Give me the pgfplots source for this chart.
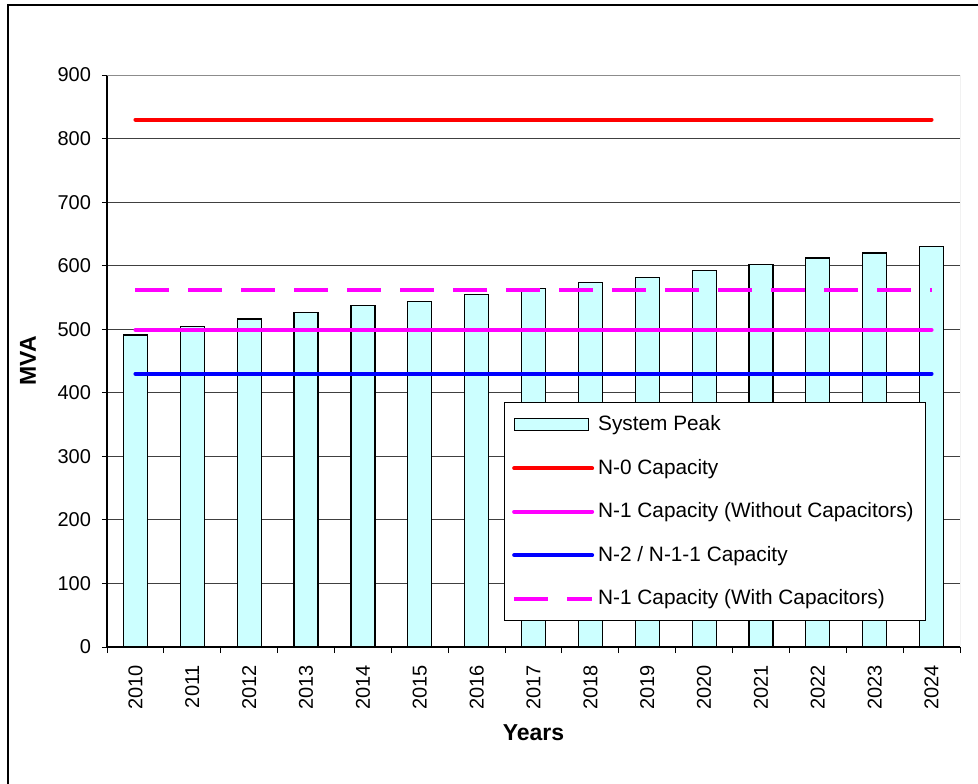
\documentclass[border=0pt]{standalone}
\usepackage{pgfplots}
\pgfplotsset{compat=1.18}
\usepackage{fontspec}
\setmainfont{Liberation Sans}
\definecolor{barfill}{HTML}{CCFFFF}
\definecolor{mag}{HTML}{FF00FF}
\begin{document}
\begin{tikzpicture}
\useasboundingbox (0,0) rectangle (489pt,391.5pt);
\draw[line width=0.6pt] (4pt,-10pt) -- (4pt,389pt) -- (500pt,389pt);
\begin{axis}[
  at={(53.5pt,68pt)}, anchor=south west,
  scale only axis, width=426.5pt, height=286pt,
  xmin=-0.5, xmax=14.5, ymin=0, ymax=900,
  axis lines*=left,
  axis line style={line width=0.6pt},
  ytick={0,100,...,900},
  xtick={0,...,14},
  xticklabels={2010,2011,2012,2013,2014,2015,2016,2017,2018,2019,2020,2021,2022,2023,2024},
  minor xtick={-0.5,0.5,...,14.5},
  major x tick style={draw=none},
  tick align=outside,
  major tick length=2.5pt, minor tick length=3pt,
  tick style={black, line width=0.5pt},
  ymajorgrids, grid style={black!75, line width=0.5pt},
  /pgf/number format/assume math mode=true,
  tick label style={font=\fontsize{10}{12}\selectfont},
  xticklabel style={rotate=90, anchor=east, xshift=-3pt},
  yticklabel style={xshift=-2pt},
  xlabel={\bfseries Years}, ylabel={\bfseries MVA},
  label style={font=\fontsize{11.5}{13}\selectfont},
  xlabel style={yshift=-0.5pt},
  ylabel style={yshift=4pt},
  legend cell align=left,
  legend style={at={(0.465,0.428)}, anchor=north west, draw=black, line width=0.5pt,
    font=\fontsize{10.4}{12}\selectfont, row sep=8.7pt, inner xsep=4pt, inner ysep=4.5pt},
]
\addplot[ybar, bar width=12pt, fill=barfill, draw=black, line width=0.6pt,
  legend image code/.code={\draw[fill=barfill,draw=black,line width=0.6pt] (0pt,-3pt) rectangle (37pt,3pt);}]
 coordinates {(0,491) (1,504) (2,516) (3,526) (4,537) (5,544) (6,555) (7,564) (8,574) (9,582) (10,592) (11,602) (12,612) (13,620) (14,630)};
\addlegendentry{System Peak}
\pgfplotsset{legend image code/.code={\draw[#1] (0pt,0pt) -- (39pt,0pt);}}
\addplot[red, line width=2pt, line cap=round] coordinates {(0,830) (14,830)};
\addlegendentry{N-0 Capacity}
\addplot[mag, line width=2pt, line cap=round] coordinates {(0,499) (14,499)};
\addlegendentry{N-1 Capacity (Without Capacitors)}
\addplot[blue, line width=2pt, line cap=round] coordinates {(0,430) (14,430)};
\addlegendentry{N-2 / N-1-1 Capacity}
\addplot[mag, line width=2pt, dash pattern=on 17pt off 9.5pt] coordinates {(0,562) (14,562)};
\addlegendentry{N-1 Capacity (With Capacitors)}
\draw[black!45, line width=0.5pt] (rel axis cs:0,1) -- (rel axis cs:1,1) -- (rel axis cs:1,0);
\end{axis}
\end{tikzpicture}
\end{document}
